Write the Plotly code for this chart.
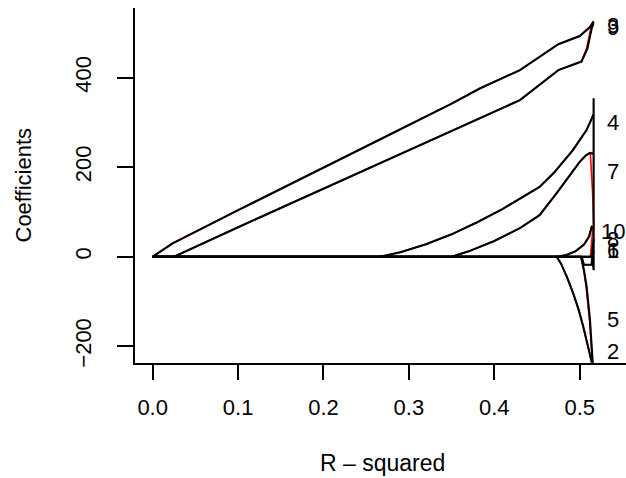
import plotly.graph_objects as go

# ---- data (R-squared, coefficient) ----
x_end = 0.5163

c3_r2 = [0, 0.0234, 0.1, 0.2, 0.266, 0.35, 0.383, 0.43, 0.475, 0.500, 0.512, 0.5163]
c3_cf = [0, 30, 104, 200, 262, 342, 376, 417, 475, 493, 513, 526]

c9_r2 = [0, 0.025, 0.1, 0.2, 0.266, 0.35, 0.43, 0.475, 0.502, 0.509, 0.514, 0.5163]
c9_cf = [0, 0, 66, 152, 209, 281, 350, 417, 436, 465, 510, 522]

c4_r2 = [0, 0.266, 0.29, 0.32, 0.35, 0.38, 0.41, 0.44, 0.453, 0.47, 0.492, 0.508, 0.5163]
c4_cf = [0, 0, 10, 28, 50, 77, 107, 140, 156, 188, 238, 283, 318]

c7_r2 = [0, 0.35, 0.37, 0.40, 0.43, 0.453, 0.473, 0.49, 0.500, 0.507, 0.512, 0.5163]
c7_cf = [0, 0, 12, 35, 64, 93, 142, 185, 212, 226, 232, 230]

c10_r2 = [0, 0.473, 0.483, 0.495, 0.505, 0.511, 0.514, 0.5163]
c10_cf = [0, 0, 3, 12, 27, 45, 67, 66]

c8_r2 = [0, 0.514, 0.5163]
c8_cf = [0, 0, 40]

c5_r2 = [0, 0.473, 0.478, 0.485, 0.4924, 0.499, 0.5041, 0.509, 0.514, 0.5163]
c5_cf = [0, 0, -15, -45, -82, -120, -156, -195, -235, -270]

c2_r2 = [0, 0.5015, 0.5050, 0.5081, 0.512, 0.5151, 0.5163]
c2_cf = [0, 0, -30, -67, -141, -235, -270]

c1_r2 = [0, 0.5022, 0.5049, 0.5140, 0.5146, 0.5163]
c1_cf = [0, 0, -18, -18, 0, 13]

c6_r2 = [0, 0.5145, 0.5163, 0.5163]
c6_cf = [0, 0, -30, 354]

# second (red) path set: differs from black only near the end
r7_r2 = [0, 0.35, 0.37, 0.40, 0.43, 0.453, 0.473, 0.49, 0.500, 0.507, 0.5124, 0.5151, 0.5166]
r7_cf = [0, 0, 12, 35, 64, 93, 142, 185, 212, 226, 232, 143, 60]

r8_r2 = [0, 0.5125, 0.5155]
r8_cf = [0, 0, 67]

r2_r2 = [0, 0.5015, 0.5047, 0.5075, 0.5115, 0.5148, 0.5163]
r2_cf = [0, 0, -30, -67, -141, -235, -270]

r9_r2 = [0, 0.025, 0.1, 0.2, 0.266, 0.35, 0.43, 0.475, 0.502, 0.508, 0.5135, 0.5163]
r9_cf = [0, 0, 66, 152, 209, 281, 350, 417, 436, 465, 515, 524]

# right-hand variable labels and their heights
lab_text = ["3", "9", "4", "7", "10", "8", "6", "1", "5", "2"]
lab_y = [516, 512, 299, 190, 56, 39, 15, 13, -141, -212]

x_ticks = [0, 0.1, 0.2, 0.3, 0.4, 0.5]
x_ticktext = ["0.0", "0.1", "0.2", "0.3", "0.4", "0.5"]
y_ticks = [-200, 0, 200, 400]
y_ticktext = ["\u2212200", "0", "200", "400"]

black = [(c3_r2, c3_cf), (c9_r2, c9_cf), (c4_r2, c4_cf), (c7_r2, c7_cf),
         (c10_r2, c10_cf), (c8_r2, c8_cf), (c5_r2, c5_cf), (c2_r2, c2_cf),
         (c1_r2, c1_cf), (c6_r2, c6_cf)]
red = [(c3_r2, c3_cf), (r9_r2, r9_cf), (c4_r2, c4_cf), (r7_r2, r7_cf),
       (c10_r2, c10_cf), (r8_r2, r8_cf), (c5_r2, c5_cf), (r2_r2, r2_cf),
       (c1_r2, c1_cf)]

fig = go.Figure()
for xs, ys in red:
    fig.add_trace(go.Scatter(x=xs, y=ys, mode="lines",
                             line=dict(color="#ff0000", width=1.6),
                             hoverinfo="skip"))
for xs, ys in black:
    fig.add_trace(go.Scatter(x=xs, y=ys, mode="lines",
                             line=dict(color="black", width=2.1),
                             hoverinfo="skip"))

font_family = "Liberation Sans, Arial, Helvetica, sans-serif"

annotations = []
for t, yv in zip(lab_text, lab_y):
    annotations.append(dict(x=x_end, y=yv, xref="x", yref="y", text=t,
                            showarrow=False, xanchor="center", yanchor="middle",
                            xshift=19.5, font=dict(size=22, color="black",
                                                   family=font_family)))
annotations.append(dict(x=(382.5 - 135) / 491, y=-(463 - 363) / 355,
                        xref="paper", yref="paper", text="R \u2013 squared",
                        showarrow=False, xanchor="center", yanchor="middle",
                        font=dict(size=23, color="black", family=font_family)))
annotations.append(dict(x=-(135 - 23) / 491, y=(363 - 185.5) / 355,
                        xref="paper", yref="paper", text="Coefficients",
                        textangle=-90, showarrow=False, xanchor="center",
                        yanchor="middle",
                        font=dict(size=22, color="black", family=font_family)))

fig.update_layout(
    width=626, height=478,
    margin=dict(l=135, r=0, t=8, b=115),
    plot_bgcolor="white", paper_bgcolor="white",
    showlegend=False,
    font=dict(family=font_family, size=22, color="black"),
    annotations=annotations,
    xaxis=dict(range=[-0.0207, 0.5542], showline=True, linecolor="black",
               linewidth=1.8, ticks="outside", ticklen=15, tickwidth=1.8,
               tickcolor="black", tickvals=x_ticks, ticktext=x_ticktext,
               showgrid=False, zeroline=False, ticklabelstandoff=9,
               tickfont=dict(size=22)),
    yaxis=dict(range=[-237.5, 555.8], showline=True, linecolor="black",
               linewidth=1.8, ticks="outside", ticklen=16, tickwidth=1.8,
               tickcolor="black", tickvals=y_ticks, ticktext=y_ticktext,
               tickangle=-90, showgrid=False, zeroline=False,
               ticklabelstandoff=17, tickfont=dict(size=22)),
)

fig.write_html(
    "out.html",
    config={"displayModeBar": False},
    post_script="document.body.style.margin='0';document.body.style.overflow='hidden';",
)
